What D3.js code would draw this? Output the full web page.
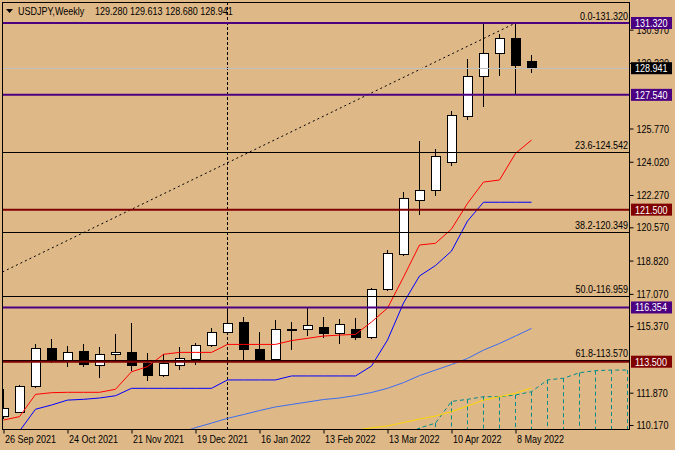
<!DOCTYPE html>
<html>
<head>
<meta charset="utf-8">
<script src="https://cdn.jsdelivr.net/npm/d3@7"></script>
<style>
  body { margin: 0; background: #deb887; }
  svg text { font-family: 'Liberation Sans', Arial, sans-serif; font-size: 11px; }
</style>
</head>
<body>
<div id="chart"></div>
<script>
const symbol = "USDJPY,Weekly";

// weekly candles, 26 Sep 2021 .. 15 May 2022 (index 0..33)
const opens  = [110.61,110.84,112.20,114.20,113.54,114.06,113.29,113.89,113.99,113.38,112.76,113.29,113.62,114.34,115.05,115.57,114.15,113.59,115.20,115.20,115.31,114.97,115.17,114.78,117.31,119.12,121.97,122.53,123.99,126.39,128.50,129.73,130.48,129.280];
const highs  = [112.05,112.25,114.43,114.68,114.33,114.43,114.29,114.95,115.54,113.97,113.90,114.26,114.47,115.26,116.354,115.87,115.06,115.69,115.57,116.33,115.87,115.74,115.80,117.39,119.38,122.44,125.11,124.69,126.71,129.42,131.25,130.74,131.32,129.613];
const lows   = [110.50,110.82,112.10,113.42,113.24,113.24,112.66,113.54,113.00,112.50,112.70,113.06,113.31,114.25,115.00,113.54,113.54,113.54,114.12,114.87,114.76,114.41,114.65,114.70,117.24,119.05,121.22,122.23,123.80,126.21,126.92,128.55,127.52,128.680];
const closes = [111.05,112.20,114.20,113.54,113.99,113.36,113.89,114.01,113.29,112.76,113.38,113.68,114.33,115.05,115.52,114.15,113.59,115.20,115.13,115.38,114.97,115.48,114.78,117.32,119.17,122.10,122.53,124.29,126.43,128.53,129.73,130.48,129.11,128.941];

// ichimoku / averages
const tenkan = [110.43,110.61,111.78,111.87,111.89,111.89,111.89,112.05,112.97,113.24,113.89,113.99,113.99,113.99,114.41,114.41,114.41,114.41,114.61,114.73,114.85,114.90,114.94,115.59,116.32,117.95,119.64,119.73,120.48,121.83,122.95,123.06,124.46,125.16];
const kijun  = [109.30,109.85,111.00,111.22,111.48,111.52,111.59,111.71,112.10,112.10,112.10,112.10,112.10,112.10,112.54,112.54,112.54,112.54,112.75,112.75,112.75,112.75,112.75,113.27,114.64,116.59,118.01,118.56,119.32,120.90,121.89,121.89,121.89,121.89];
const maBlueStart = 11;
const maBlue = [109.75,110.03,110.27,110.52,110.72,110.93,111.12,111.25,111.38,111.51,111.59,111.72,111.88,112.10,112.40,112.77,113.06,113.35,113.67,114.11,114.46,114.85,115.25];
const maGoldStart = 22;
const maGold = [109.90,110.02,110.12,110.30,110.48,110.64,110.87,111.17,111.48,111.66,111.84,112.12];
const cloudStart = 25;
const spanA = [109.60,110.01,110.27,111.41,111.52,111.66,111.66,111.75,111.92,112.54,112.63,112.92,113.03,113.06,113.06];

// axis labels (127.470 and 113.620 sit under the level boxes, so they are left out)
const priceTicks = [130.970,129.220,125.770,124.020,122.270,120.570,118.820,117.070,115.370,111.870,110.170];
const dateTickIdx = [0,4,8,12,16,20,24,28,32];
const dateLabels = ["26 Sep 2021","24 Oct 2021","21 Nov 2021","19 Dec 2021","16 Jan 2022","13 Feb 2022","13 Mar 2022","10 Apr 2022","8 May 2022"];

// levels
const fibLevels = ["0.0","23.6","38.2","50.0","61.8"];
const fibPrices = [131.320,124.542,120.349,116.959,113.570];
const fibLow = 102.60, fibLowIdx = -38.3, fibHighIdx = 32;
const purpleLevels = [131.320,127.540,116.354];
const redLevels = [121.500,113.500];
const lastPrice = 128.941;
const vlineIdx = 14;

const W = 675, H = 450;
const plot = {left: 2, top: 2, right: 629, bottom: 429};
const SX = 0.82; // squeeze text horizontally, terminal font is narrow

// squeeze text along x while keeping its anchor point
function narrow(sel) {
    sel.each(function () {
        const t = d3.select(this);
        const x0 = +t.attr('x') || 0;
        t.attr('x', x0 / SX).attr('transform', `scale(${SX},1)`);
    });
}

const svg = d3.select('#chart').append('svg').attr('width', W).attr('height', H);
svg.append('rect').attr('width', W).attr('height', H).attr('fill', '#deb887');

const x = d3.scaleLinear().domain([0, 39]).range([3.5, 627.5]);
const y = d3.scaleLinear().domain([110.17, 130.97]).range([425, 29.65]);

svg.append('clipPath').attr('id', 'clip').append('rect')
    .attr('x', plot.left).attr('y', plot.top)
    .attr('width', plot.right - plot.left).attr('height', plot.bottom - plot.top);
const g = svg.append('g').attr('clip-path', 'url(#clip)');

// cloud: dashed top edge plus hatching down to the bottom
const cloudIdx = spanA.map((d, i) => i + cloudStart);
g.selectAll('.hatch').data(cloudIdx).enter().append('line')
    .attr('x1', d => x(d)).attr('x2', d => x(d))
    .attr('y1', (d, i) => y(spanA[i])).attr('y2', plot.bottom)
    .attr('stroke', '#008b8b').attr('stroke-dasharray', '4,3');
g.append('path').datum(spanA)
    .attr('fill', 'none').attr('stroke', '#008b8b').attr('stroke-dasharray', '4,3')
    .attr('d', d3.line().x((d, i) => x(i + cloudStart)).y(d => y(d)));

// vertical dashed separator
g.append('line')
    .attr('x1', x(vlineIdx)).attr('x2', x(vlineIdx))
    .attr('y1', plot.top).attr('y2', plot.bottom)
    .attr('stroke', '#000').attr('stroke-dasharray', '3,2');

// candles
const candles = opens.map((o, i) => ({i, o, h: highs[i], l: lows[i], c: closes[i]}));
g.selectAll('.wick').data(candles).enter().append('line')
    .attr('x1', d => x(d.i)).attr('x2', d => x(d.i))
    .attr('y1', d => y(d.h)).attr('y2', d => y(d.l))
    .attr('stroke', '#000').attr('shape-rendering', 'crispEdges');
g.selectAll('.body').data(candles).enter().append('rect')
    .attr('x', d => x(d.i) - 4.5)
    .attr('y', d => y(Math.max(d.o, d.c)))
    .attr('width', 9)
    .attr('height', d => Math.max(1, Math.abs(y(d.o) - y(d.c))))
    .attr('fill', d => d.c >= d.o ? '#fff' : '#000')
    .attr('stroke', '#000').attr('shape-rendering', 'crispEdges');

// indicator lines
const lineFrom = start => d3.line().x((d, i) => x(i + start)).y(d => y(d));
g.append('path').datum(maGold).attr('fill', 'none').attr('stroke', '#ffd700').attr('d', lineFrom(maGoldStart));
g.append('path').datum(maBlue).attr('fill', 'none').attr('stroke', '#3c6cf0').attr('d', lineFrom(maBlueStart));
g.append('path').datum(kijun).attr('fill', 'none').attr('stroke', '#0000ff').attr('d', lineFrom(0));
g.append('path').datum(tenkan).attr('fill', 'none').attr('stroke', '#ff0000').attr('d', lineFrom(0));

// fibonacci
g.append('line')
    .attr('x1', x(fibLowIdx)).attr('y1', y(fibLow))
    .attr('x2', x(fibHighIdx)).attr('y2', y(fibPrices[0]))
    .attr('stroke', '#000').attr('stroke-dasharray', '2,3');
g.selectAll('.fib').data(fibPrices).enter().append('line')
    .attr('x1', plot.left).attr('x2', plot.right)
    .attr('y1', d => Math.round(y(d)) + 0.5).attr('y2', d => Math.round(y(d)) + 0.5)
    .attr('stroke', '#000');

// horizontal levels
g.append('line')
    .attr('x1', plot.left).attr('x2', plot.right)
    .attr('y1', Math.round(y(lastPrice)) + 0.5).attr('y2', Math.round(y(lastPrice)) + 0.5)
    .attr('stroke', '#c0c0c0');
g.selectAll('.lvlp').data(purpleLevels).enter().append('line')
    .attr('x1', plot.left).attr('x2', plot.right)
    .attr('y1', d => y(d)).attr('y2', d => y(d))
    .attr('stroke', '#4b0082').attr('stroke-width', 2);
g.selectAll('.lvlr').data(redLevels).enter().append('line')
    .attr('x1', plot.left).attr('x2', plot.right)
    .attr('y1', d => y(d)).attr('y2', d => y(d))
    .attr('stroke', '#800000').attr('stroke-width', 2);

svg.selectAll('.fibtxt').data(fibPrices).enter().append('text')
    .attr('x', plot.right - 1).attr('y', d => y(d) - 3)
    .attr('text-anchor', 'end')
    .text((d, i) => `${fibLevels[i]}-${d.toFixed(3)}`)
    .call(narrow);

// frame
svg.append('rect')
    .attr('x', plot.left + 0.5).attr('y', plot.top + 0.5)
    .attr('width', plot.right - plot.left).attr('height', plot.bottom - plot.top)
    .attr('fill', 'none').attr('stroke', '#000').attr('shape-rendering', 'crispEdges');

// right price axis
const yAxis = svg.append('g')
    .attr('transform', `translate(${plot.right + 0.5},0)`)
    .call(d3.axisRight(y).tickValues(priceTicks).tickFormat(d3.format('.3f')).tickSize(4).tickPadding(3));
yAxis.select('.domain').remove();
yAxis.selectAll('text').style('font-size', '11px').attr('fill', '#000').call(narrow);

// bottom date axis
const xAxis = svg.append('g')
    .attr('transform', `translate(0,${plot.bottom + 0.5})`)
    .call(d3.axisBottom(x).tickValues(dateTickIdx).tickFormat((d, i) => dateLabels[i]).tickSize(4));
xAxis.select('.domain').remove();
xAxis.selectAll('text').attr('text-anchor', 'start').attr('x', 1).attr('y', 6)
    .style('font-size', '11px').attr('fill', '#000').call(narrow);

// price boxes
const boxes = [
    ...purpleLevels.map(v => ({v, fill: '#4b0082'})),
    ...redLevels.map(v => ({v, fill: '#800000'})),
    {v: lastPrice, fill: '#000'}
];
const box = svg.selectAll('.pbox').data(boxes).enter().append('g')
    .attr('transform', d => `translate(${plot.right + 2},${y(d.v)})`);
box.append('rect').attr('x', 0).attr('y', -6).attr('width', 41).attr('height', 12).attr('fill', d => d.fill);
box.append('text').attr('x', 4).attr('y', 4).attr('fill', '#fff').text(d => d.v.toFixed(3)).call(narrow);

// header
svg.append('path').attr('d', 'M6,9 L13,9 L9.5,13 Z').attr('fill', '#000');
svg.append('text').attr('x', 18).attr('y', 15).text(symbol).call(narrow);
svg.append('text').attr('x', 95).attr('y', 15)
    .text([opens[33], highs[33], lows[33], closes[33]].map(d => d.toFixed(3)).join(' '))
    .call(narrow);
</script>
</body>
</html>
